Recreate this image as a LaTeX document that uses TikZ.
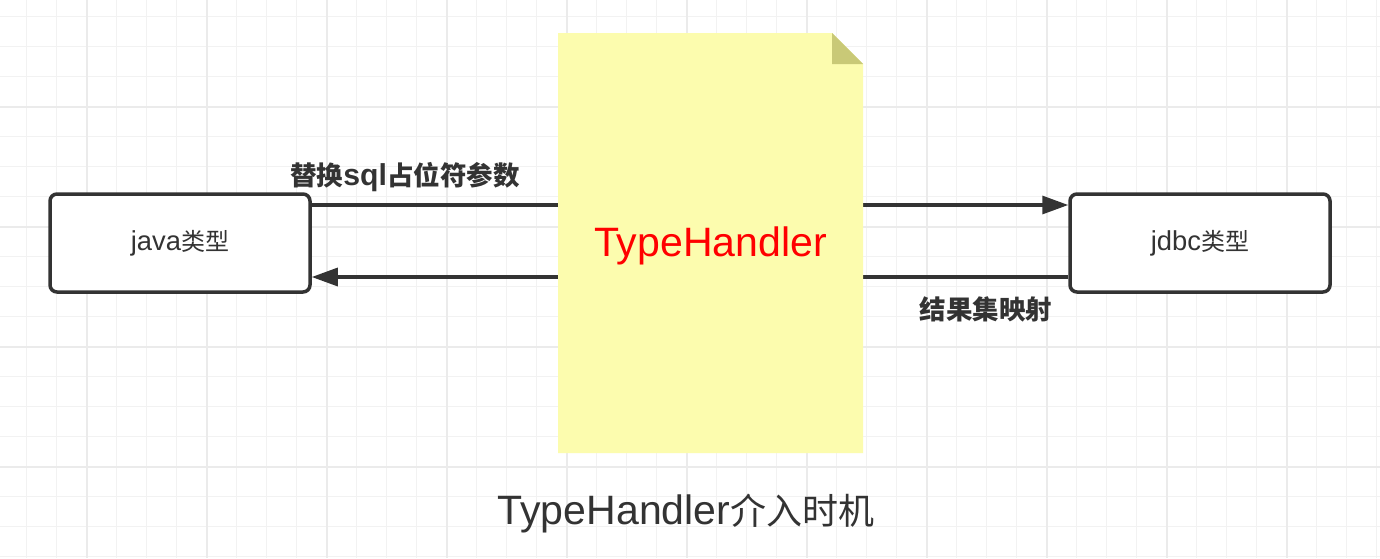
\documentclass[tikz,border=0pt]{standalone}
\usepackage{fontspec}
\setmainfont{Liberation Sans}[Scale=1.14]
\newfontfamily\cjkf{Noto Sans CJK SC}
\newcommand{\zh}[1]{{\cjkf #1}}
\usetikzlibrary{arrows.meta}
\definecolor{ink}{HTML}{333333}
\definecolor{gridA}{HTML}{F2F2F2}
\definecolor{gridB}{HTML}{EBEBEB}
\definecolor{notefill}{HTML}{FCFCAE}
\definecolor{notefold}{HTML}{C9C977}
\definecolor{thred}{HTML}{FF0000}
\begin{document}
\begin{tikzpicture}[x=1pt,y=-1pt,
  gridminor/.style={draw=gridA, line width=1.6pt},
  gridmajor/.style={draw=gridB, line width=2pt},
  typebox/.style={draw=ink, line width=3.5pt, rounded corners=7pt, fill=white,
    minimum width=260pt, minimum height=98pt, inner sep=0pt, text=ink,
    font=\fontsize{24}{28}\selectfont},
  conn/.style={draw=ink, line width=3.2pt, -{Triangle[length=26pt,width=18pt]}},
  lbl/.style={text=ink, font=\bfseries\fontsize{26.5}{30}\selectfont, inner sep=0pt},
  notetext/.style={text=thred, font=\fontsize{36}{40}\selectfont, inner sep=0pt},
  titletext/.style={text=ink, font=\fontsize{36}{40}\selectfont, inner sep=0pt},
]
\useasboundingbox (0,0) rectangle (1380,558);
\fill[white] (0,0) rectangle (1380,558);
% grid
\foreach \i in {0,...,45} {\draw[gridminor] ({26.67+30*\i},0) -- ({26.67+30*\i},558);}
\foreach \i in {0,...,18} {\draw[gridminor] (0,{16.67+30*\i}) -- (1380,{16.67+30*\i});}
\foreach \i in {0,...,10} {\draw[gridmajor] ({86.67+120*\i},0) -- ({86.67+120*\i},558);}
\foreach \i in {0,...,3} {\draw[gridmajor] (0,{106.67+120*\i}) -- (1380,{106.67+120*\i});}

% boxes
\node[typebox] (java) at (180,243) {\raisebox{-3pt}{java\zh{类型}}};
\node[typebox] (jdbc) at (1200,243) {\raisebox{-3pt}{jdbc\zh{类型}}};

% connectors
\draw[conn] (java.east |- 0,205) -- (jdbc.west |- 0,205);
\draw[conn] (jdbc.west |- 0,277) -- (java.east |- 0,277);

% note
\coordinate (nNW) at (558,33);
\coordinate (nNE) at (863,33);
\coordinate (nSE) at (863,453);
\coordinate (nSW) at (558,453);
\fill[notefill] (nNW) -- ([xshift=-31pt]nNE) -- ([yshift=-31pt]nNE) -- (nSE) -- (nSW) -- cycle;
\fill[notefold] ([xshift=-31pt]nNE) -- ([yshift=-31pt]nNE) -- ([xshift=-31pt,yshift=-31pt]nNE) -- cycle;
\node[notetext] (th) at (710.5,246) {TypeHandler};

% labels
\node[lbl] (l1) at (405,177) {\zh{替换}sql\zh{占位符参数}};
\node[lbl] (l2) at (986,309) {\zh{结果集映射}};

% title
\node[titletext] (title) at (686,513) {TypeHandler\zh{介入时机}};
\end{tikzpicture}
\end{document}
